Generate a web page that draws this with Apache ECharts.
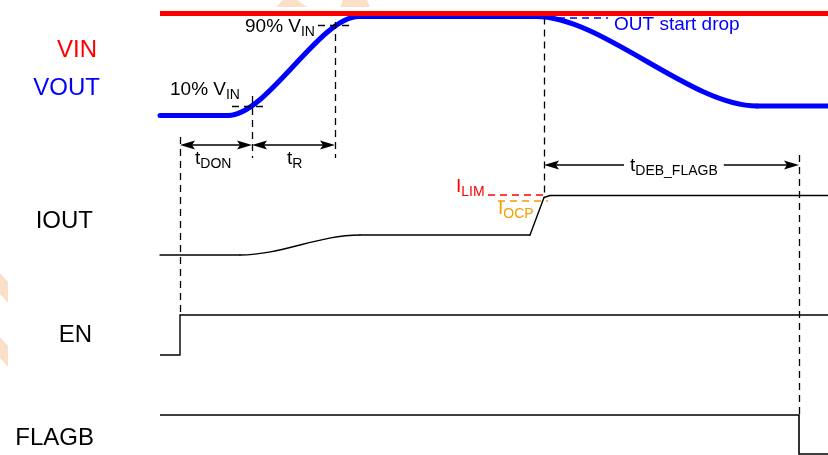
<!DOCTYPE html>
<html><head><meta charset="utf-8">
<script src="https://cdn.jsdelivr.net/npm/echarts@6/dist/echarts.min.js"></script>
<style>html,body{margin:0;padding:0;background:#fff}#c{width:828px;height:455px}</style>
</head><body><div id="c"></div>
<script>
// ---- waveform data (time units along x, level units along y) ----
// segment shapes: 'L' = straight, 'S' = smooth transition with flat ends
const vinT   = [160, 828];
const vinY   = [13.5, 13.5];
const voutT  = [160, 228, 359, 536, 757, 828];
const voutY  = [115.5, 115.5, 16.5, 16.5, 106, 106];
const voutK  = ['L', 'S', 'L', 'S', 'L'];
const ioutT  = [160, 240, 360, 530, 544, 550, 828];
const ioutY  = [255, 255, 235, 235, 197.5, 195.5, 195.5];
const ioutK  = ['L', 'S', 'L', 'L', 'L', 'L'];
const enT    = [160, 180, 180, 828];
const enY    = [355, 355, 315, 315];
const flagbT = [160, 799, 799, 828];
const flagbY = [415, 415, 454, 454];
// event times
const tEN = 180, t10 = 252, t90 = 335, tDrop = 544, tFlag = 799;
// thresholds
const vin10 = 106, vin90 = 25, outDrop = 17.5, iLim = 195, iOcp = 201;
// signal names
const signalNames = ['VIN', 'VOUT', 'IOUT', 'EN', 'FLAGB'];

const FONT = '"Liberation Sans", Arial, Helvetica, sans-serif';
const zip = (a, b) => a.map((v, i) => [v, b[i]]);
const chart = echarts.init(document.getElementById('c'));

function lineSeries(t, y, color, width, z) {
  return { type: 'line', data: zip(t, y), showSymbol: false, symbol: 'none', smooth: false,
    lineStyle: { color: color, width: width, cap: 'butt', join: 'miter' },
    z: z || 2, silent: true, animation: false };
}
// waveform drawn segment by segment through the axis scales
function waveSeries(t, y, kinds, color, width, bend, z) {
  const segs = kinds.map((k, i) => [t[i], y[i], t[i + 1], y[i + 1], k === 'S' ? 1 : 0]);
  return { type: 'custom', animation: false, silent: true, z: z || 2, data: segs,
    renderItem: function (params, api) {
      const a = api.coord([api.value(0), api.value(1)]);
      const b = api.coord([api.value(2), api.value(3)]);
      const style = { stroke: color, lineWidth: width, fill: null, lineCap: 'round', lineJoin: 'round' };
      if (api.value(4) === 1) {
        const dx = b[0] - a[0];
        return { type: 'bezierCurve', shape: { x1: a[0], y1: a[1], x2: b[0], y2: b[1],
          cpx1: a[0] + bend * dx, cpy1: a[1], cpx2: b[0] - bend * dx, cpy2: b[1] }, style: style };
      }
      return { type: 'line', shape: { x1: a[0], y1: a[1], x2: b[0], y2: b[1] }, style: style };
    } };
}
function dashSeries(segs, color, width) {
  return { type: 'lines', coordinateSystem: 'cartesian2d', animation: false, silent: true, z: 4,
    lineStyle: { color: color, width: width, type: [7, 5], opacity: 1 }, symbol: 'none',
    data: segs.map(s => ({ coords: [[s[0], s[1]], [s[2], s[3]]] })) };
}
const dimArrows = [[tEN, t10, 145], [t10, t90, 145], [tDrop, tFlag, 165]];

function txt(x, y, fmt, color, size, align) {
  return { value: [x, y], label: { show: true, position: [0, 0], align: align, verticalAlign: 'middle',
    formatter: fmt, color: color, fontSize: size, fontFamily: FONT, opacity: 1,
    rich: {
      m: { fontSize: 19, fontFamily: FONT, color: color, lineHeight: 24, verticalAlign: 'middle' },
      s: { fontSize: 14, fontFamily: FONT, color: color, lineHeight: 11, verticalAlign: 'bottom' }
    } } };
}
const labels = [
  txt(97, 50, signalNames[0], '#ff0000', 24, 'right'),
  txt(100, 88, signalNames[1], '#0000ff', 24, 'right'),
  txt(93, 221, signalNames[2], '#000', 24, 'right'),
  txt(92, 335, signalNames[3], '#000', 24, 'right'),
  txt(94, 438, signalNames[4], '#000', 24, 'right'),
  txt(170, 90, '{m|10% V}{s|IN}', '#000', 19, 'left'),
  txt(245, 27, '{m|90% V}{s|IN}', '#000', 19, 'left'),
  txt(195, 159, '{m|t}{s|DON}', '#000', 19, 'left'),
  txt(287, 159, '{m|t}{s|R}', '#000', 19, 'left'),
  txt(614, 25, 'OUT start drop', '#0000ff', 19, 'left'),
  txt(456, 187, '{m|I}{s|LIM}', '#ff0000', 19, 'left'),
  txt(498, 209, '{m|I}{s|OCP}', '#f0a000', 19, 'left')
];
const debLabel = txt(624, 166, '{m|t}{s|DEB_FLAGB}', '#000', 19, 'left');
debLabel.label.backgroundColor = '#fff';
debLabel.label.padding = [0, 6, 0, 6];

const wm = '#fbe0c8';
chart.setOption({
  backgroundColor: '#fff',
  animation: false,
  graphic: [
    { type: 'polygon', z: -10, shape: { points: [[0, 273], [8, 282], [8, 303], [0, 294]] }, style: { fill: wm } },
    { type: 'polygon', z: -10, shape: { points: [[0, 337], [8, 346], [8, 367], [0, 358]] }, style: { fill: wm } },
    { type: 'polygon', z: -10, shape: { points: [[283, 0], [297, 0], [307, 7], [276, 7]] }, style: { fill: wm } },
    { type: 'polygon', z: -10, shape: { points: [[343, 0], [367, 0], [370, 7], [340, 7]] }, style: { fill: wm } }
  ],
  grid: { left: 0, right: 0, top: 0, bottom: 0 },
  xAxis: { type: 'value', min: 0, max: 828, show: false },
  yAxis: { type: 'value', min: 0, max: 455, inverse: true, show: false },
  series: [
    waveSeries(voutT, voutY, voutK, '#0000ff', 5, 0.3, 2),
    lineSeries(vinT, vinY, '#ff0000', 5, 3),
    waveSeries(ioutT, ioutY, ioutK, '#000', 1.4, 0.35, 2),
    lineSeries(enT, enY, '#000', 1.4, 2),
    lineSeries(flagbT, flagbY, '#000', 1.6, 2),
    dashSeries([[tEN, 137, tEN, 315], [t10, 96, t10, 158], [t90, 22, t90, 158],
                [tDrop, outDrop, tDrop, iLim + 2], [tFlag, 155, tFlag, 415],
                [232, vin10, 266, vin10], [318, vin90, 350, vin90]], '#000', 1.3),
    dashSeries([[522, outDrop, 608, outDrop]], '#0000ff', 1.5),
    dashSeries([[488, iLim, tDrop, iLim]], '#ff0000', 1.5),
    dashSeries([[498, iOcp, 548, iOcp]], '#f0a000', 1.5),
    {
      type: 'custom', animation: false, silent: true, z: 5, data: dimArrows,
      renderItem: function (params, api) {
        const a = api.coord([api.value(0), api.value(2)]);
        const b = api.coord([api.value(1), api.value(2)]);
        const L = 15, H = 4.5, N = 3;
        const y = a[1];
        return { type: 'group', children: [
          { type: 'line', shape: { x1: a[0] + 5, y1: y, x2: b[0] - 5, y2: y }, style: { stroke: '#000', lineWidth: 1.4 } },
          { type: 'polygon', shape: { points: [[a[0], y], [a[0] + L, y - H], [a[0] + L - N, y], [a[0] + L, y + H]] }, style: { fill: '#000' } },
          { type: 'polygon', shape: { points: [[b[0], y], [b[0] - L, y - H], [b[0] - L + N, y], [b[0] - L, y + H]] }, style: { fill: '#000' } }
        ] };
      }
    },
    { type: 'scatter', symbolSize: 0, animation: false, silent: true, z: 6,
      itemStyle: { opacity: 1 }, data: [debLabel] },
    { type: 'scatter', symbolSize: 0, animation: false, silent: true, z: 6,
      itemStyle: { opacity: 1 }, data: labels }
  ]
});
</script></body></html>
